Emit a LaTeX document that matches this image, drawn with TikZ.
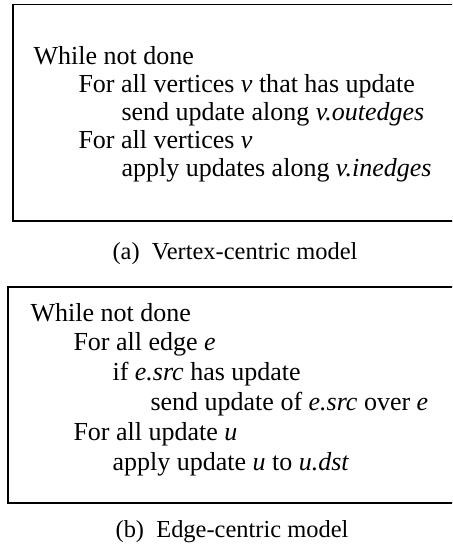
\documentclass[tikz,border=0pt]{standalone}
\usepackage{fontspec}
\setmainfont{Liberation Serif}
\usetikzlibrary{positioning}
\tikzset{
    frame/.style={draw,line width=0.6pt},
    code/.style={anchor=base west,inner sep=0pt,font=\fontsize{10}{12}\selectfont},
    capt/.style={anchor=base,inner sep=0pt,font=\fontsize{9.4}{11}\selectfont}
}

\begin{document}
\begin{tikzpicture}[x=0.3846pt,y=-0.3846pt]

    \clip (0,0) rectangle (452,551);

    % (a) vertex-centric
    \draw[frame] (13,4.5) rectangle (458,221);
    \node[code] (aw)  at (33,65)  {While not done};
    \node[code] (af1) at (78,93)  {For all vertices \textit{v} that has update};
    \node[code] (as)  at (121,121) {send update along \textit{v.outedges}};
    \node[code] (af2) at (78,149) {For all vertices \textit{v}};
    \node[code] (aa)  at (121,177) {apply updates along \textit{v.inedges}};
    \node[capt] (capa) at (235,259) {(a)\hspace{0.5em}Vertex-centric model};

    % (b) edge-centric
    \draw[frame] (8,287) rectangle (458,503);
    \node[code] (bw)  at (30,321)  {While not done};
    \node[code] (bf1) at (73,350.8) {For all edge \textit{e}};
    \node[code] (bi)  at (112,380.6) {if \textit{e.src} has update};
    \node[code] (bs)  at (150,410.4) {send update of \textit{e.src} over \textit{e}};
    \node[code] (bf2) at (73,440.2) {For all update \textit{u}};
    \node[code] (ba)  at (112,470)  {apply update \textit{u} to \textit{u.dst}};
    \node[capt] (capb) at (232,537) {(b)\hspace{0.5em}Edge-centric model};

\end{tikzpicture}
\end{document}
